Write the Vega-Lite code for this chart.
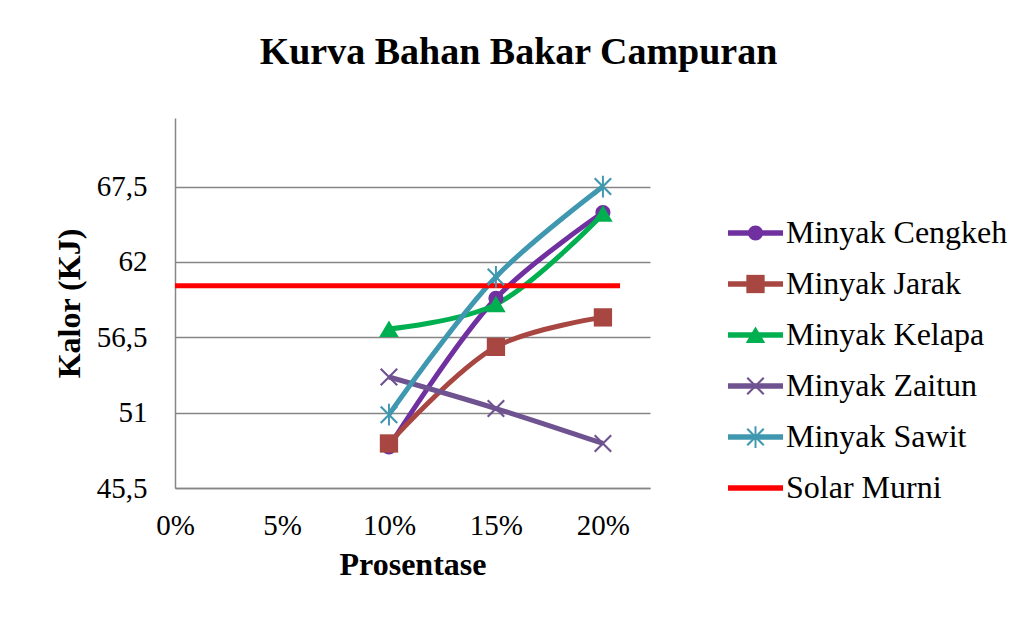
{
  "$schema": "https://vega.github.io/schema/vega-lite/v6.json",
  "width": 475,
  "height": 370,
  "autosize": {"type": "none"},
  "padding": {"left": 175, "top": 118, "right": 370, "bottom": 151},
  "background": "white",
  "title": {
    "text": "Kurva Bahan Bakar Campuran",
    "font": "Liberation Serif",
    "fontSize": 38,
    "fontWeight": "bold",
    "color": "black",
    "anchor": "middle",
    "frame": "group",
    "dx": 106,
    "offset": 16,
    "baseline": "alphabetic"
  },
  "data": {
    "values": [
      {"series": "Minyak Cengkeh", "pct": 0.10, "kalor": 48.5},
      {"series": "Minyak Cengkeh", "pct": 0.15, "kalor": 59.35},
      {"series": "Minyak Cengkeh", "pct": 0.20, "kalor": 65.6},
      {"series": "Minyak Jarak", "pct": 0.10, "kalor": 48.75},
      {"series": "Minyak Jarak", "pct": 0.15, "kalor": 55.8},
      {"series": "Minyak Jarak", "pct": 0.20, "kalor": 57.95},
      {"series": "Minyak Kelapa", "pct": 0.10, "kalor": 57.1},
      {"series": "Minyak Kelapa", "pct": 0.15, "kalor": 58.9},
      {"series": "Minyak Kelapa", "pct": 0.20, "kalor": 65.5},
      {"series": "Minyak Zaitun", "pct": 0.10, "kalor": 53.6},
      {"series": "Minyak Zaitun", "pct": 0.15, "kalor": 51.3},
      {"series": "Minyak Zaitun", "pct": 0.20, "kalor": 48.75},
      {"series": "Minyak Sawit", "pct": 0.10, "kalor": 50.85},
      {"series": "Minyak Sawit", "pct": 0.15, "kalor": 60.9},
      {"series": "Minyak Sawit", "pct": 0.20, "kalor": 67.5},
      {"series": "Solar Murni", "pct": 0.0, "kalor": 60.25},
      {"series": "Solar Murni", "pct": 0.208, "kalor": 60.25}
    ]
  },
  "encoding": {
    "x": {
      "field": "pct",
      "type": "quantitative",
      "scale": {"domain": [0, 0.222], "nice": false, "zero": false},
      "axis": {
        "values": [0, 0.05, 0.1, 0.15, 0.2],
        "format": ".0%",
        "grid": false,
        "ticks": false,
        "labelFlush": false,
        "domainColor": "#868686",
        "domainWidth": 1.5,
        "labelFont": "Liberation Serif",
        "labelFontSize": 29,
        "labelColor": "black",
        "labelPadding": 23,
        "title": "Prosentase",
        "titleFont": "Liberation Serif",
        "titleFontSize": 32,
        "titleFontWeight": "bold",
        "titleColor": "black",
        "titlePadding": 9
      }
    },
    "y": {
      "field": "kalor",
      "type": "quantitative",
      "scale": {"domain": [45.5, 72.5], "nice": false, "zero": false},
      "axis": {
        "values": [45.5, 51, 56.5, 62, 67.5],
        "labelExpr": "replace(toString(datum.value), '.', ',')",
        "grid": true,
        "gridColor": "#868686",
        "gridWidth": 1.5,
        "ticks": false,
        "domainColor": "#868686",
        "domainWidth": 1.5,
        "labelFont": "Liberation Serif",
        "labelFontSize": 29,
        "labelColor": "black",
        "labelPadding": 28,
        "title": "Kalor (KJ)",
        "titleFont": "Liberation Serif",
        "titleFontSize": 32,
        "titleFontWeight": "bold",
        "titleColor": "black",
        "titlePadding": 10
      }
    }
  },
  "layer": [
    {
      "mark": {"type": "line", "strokeWidth": 5, "interpolate": "catmull-rom"},
      "encoding": {
        "stroke": {
          "field": "series",
          "type": "nominal",
          "scale": {
            "domain": ["Minyak Cengkeh", "Minyak Jarak", "Minyak Kelapa", "Minyak Zaitun", "Minyak Sawit", "Solar Murni"],
            "range": ["#7030A0", "#A84742", "#00B050", "#6F5290", "#4098B0", "#FF0000"]
          },
          "legend": {
            "orient": "none",
            "legendX": 564.5,
            "legendY": 99,
            "title": null,
            "padding": 0,
            "labelFont": "Liberation Serif",
            "labelFontSize": 32,
            "labelColor": "black",
            "labelOffset": 14.5,
            "labelLimit": 400,
            "rowPadding": 19,
            "symbolSize": 225,
            "symbolType": "M-3.67,0H3.67",
            "symbolStrokeWidth": 5.5
          }
        }
      }
    },
    {
      "transform": [{"filter": "datum.series !== 'Solar Murni'"}],
      "mark": {"type": "point", "filled": true, "size": 225, "opacity": 1, "strokeWidth": 0},
      "encoding": {
        "fill": {
          "field": "series",
          "type": "nominal",
          "scale": {
            "domain": ["Minyak Cengkeh", "Minyak Jarak", "Minyak Kelapa", "Minyak Zaitun", "Minyak Sawit"],
            "range": ["#7030A0", "#A84742", "#00B050", "#6F5290", "#4098B0"]
          },
          "legend": {
            "orient": "none",
            "legendX": 564.5,
            "legendY": 99,
            "title": null,
            "padding": 0,
            "labelFont": "Liberation Serif",
            "labelFontSize": 32,
            "labelOpacity": 0,
            "labelOffset": 14.5,
            "labelLimit": 400,
            "rowPadding": 19,
            "symbolSize": 225,
            "symbolOpacity": 1,
            "symbolStrokeWidth": 0
          }
        },
        "shape": {
          "field": "series",
          "type": "nominal",
          "scale": {
            "domain": ["Minyak Cengkeh", "Minyak Jarak", "Minyak Kelapa", "Minyak Zaitun", "Minyak Sawit"],
            "range": [
              "M1,0A1,1,0,1,1,-1,0A1,1,0,1,1,1,0Z",
              "M-1.22,-1.22L1.22,-1.22L1.22,1.22L-1.22,1.22Z",
              "M0,-1.15L1.3,1.05L-1.3,1.05Z",
              "M-1.2,-1L-1,-1.2L1.2,1L1,1.2ZM-1.2,1L1,-1.2L1.2,-1L-1,1.2Z",
              "M-1.2,-1L-1,-1.2L1.2,1L1,1.2ZM-1.2,1L1,-1.2L1.2,-1L-1,1.2ZM-0.13,-1.45L0.13,-1.45L0.13,1.45L-0.13,1.45Z"
            ]
          },
          "legend": {
            "orient": "none",
            "legendX": 564.5,
            "legendY": 99,
            "title": null,
            "padding": 0,
            "labelFont": "Liberation Serif",
            "labelFontSize": 32,
            "labelOpacity": 0,
            "labelOffset": 14.5,
            "labelLimit": 400,
            "rowPadding": 19,
            "symbolSize": 225,
            "symbolOpacity": 1,
            "symbolStrokeWidth": 0
          }
        }
      }
    }
  ],
  "config": {"view": {"stroke": null}}
}
